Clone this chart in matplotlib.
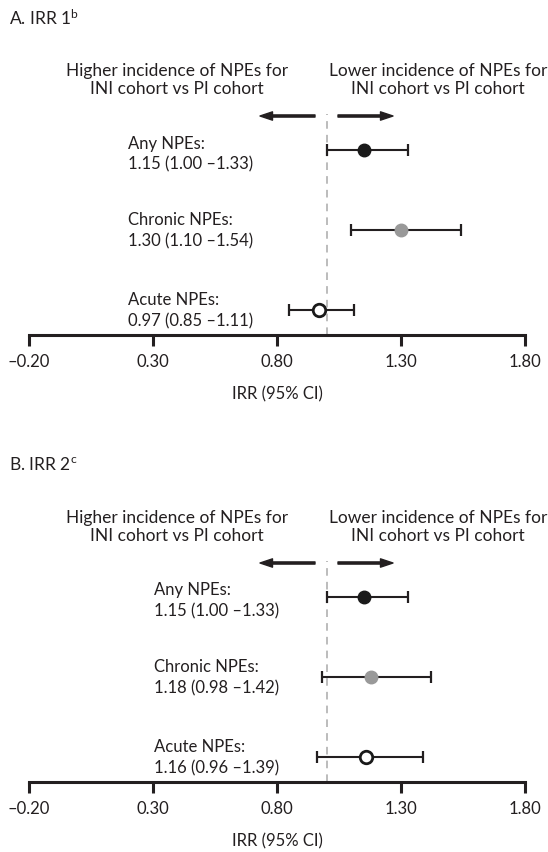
import matplotlib
matplotlib.use("Agg")
import matplotlib.pyplot as plt

plt.rcParams['font.family'] = ['Lato', 'DejaVu Sans']
plt.rcParams['mathtext.fontset'] = 'custom'
plt.rcParams['mathtext.rm'] = 'Lato'
plt.rcParams['mathtext.it'] = 'Lato:italic'

# ---- data ----
categories = ["Any NPEs", "Chronic NPEs", "Acute NPEs"]
irr1 = [1.15, 1.30, 0.97]
irr1_lo = [1.00, 1.10, 0.85]
irr1_hi = [1.33, 1.54, 1.11]
irr2 = [1.15, 1.18, 1.16]
irr2_lo = [1.00, 0.98, 0.96]
irr2_hi = [1.33, 1.42, 1.39]
tick_values = [-0.20, 0.30, 0.80, 1.30, 1.80]
tick_labels = ["\u20130.20", "0.30", "0.80", "1.30", "1.80"]
marker_faces = ["#1a1a1a", "#999999", "white"]
marker_edges = ["#1a1a1a", "#999999", "#1a1a1a"]

W, H = 548, 853
fig = plt.figure(figsize=(W / 100, H / 100), dpi=100)

FS = 12
FS_HEAD = 12.5
PX = 80.0  # pixels per category row
DARK = '#231f20'
LEFT, RIGHT = 29, 525
UNIT = (RIGHT - LEFT) / 2.0  # px per IRR unit


def xd(px):
    return -0.2 + (px - LEFT) / UNIT


def panel(off, label_x_px, title, sup, vals, lo, hi):
    axis_px = 336 + off
    top_px = 40 + off
    ax = fig.add_axes([LEFT / W, 1 - axis_px / H, (RIGHT - LEFT) / W, (axis_px - top_px) / H])
    ybot = 1 - 25 / PX
    ytop = ybot + (axis_px - top_px) / PX
    ax.set_xlim(-0.2, 1.8)
    ax.set_ylim(ybot, ytop)
    for s in ['top', 'right', 'left']:
        ax.spines[s].set_visible(False)
    ax.spines['bottom'].set_linewidth(2.2)
    ax.spines['bottom'].set_color(DARK)
    ax.set_yticks([])
    ax.set_xticks(tick_values)
    ax.set_xticklabels(tick_labels, fontsize=FS)
    ax.tick_params(axis='x', length=8, width=2.2, color=DARK, pad=5, labelcolor=DARK)
    ax.set_xlabel("IRR (95% CI)", fontsize=FS, labelpad=12, color=DARK)
    ax.patch.set_alpha(0)

    def py(px):
        return 1 + (axis_px - 25 - (px + off)) / PX

    ys = [3, 2, 1]
    arrow_y = py(117)
    # dashed reference line
    ax.plot([1.0, 1.0], [ybot, py(115)], color='#aaaaaa', lw=1.1, ls=(0, (5, 4)), zorder=1)
    lab_x = xd(label_x_px)
    lab_shift = [3, 0, 0]
    for i, y in enumerate(ys):
        ax.errorbar(vals[i], y, xerr=[[vals[i] - lo[i]], [hi[i] - vals[i]]], fmt='none',
                    ecolor=DARK, elinewidth=1.5, capsize=4.5, capthick=1.6, zorder=2)
        ax.plot(vals[i], y, 'o', ms=9, mfc=marker_faces[i], mec=marker_edges[i],
                mew=2.0 if i == 2 else 1, zorder=3)
        cy = y - lab_shift[i] / PX
        ax.text(lab_x, cy + 10.5 / PX, categories[i] + ":", fontsize=FS, ha='left', va='center', color=DARK)
        ax.text(lab_x, cy - 10.5 / PX, f"{vals[i]:.2f} ({lo[i]:.2f} \u2013{hi[i]:.2f})", fontsize=FS,
                ha='left', va='center', color=DARK)
    # header text
    for cx, txt in [(177, "Higher incidence of NPEs for\nINI cohort vs PI cohort"),
                    (438, "Lower incidence of NPEs for\nINI cohort vs PI cohort")]:
        ax.text(xd(cx), py(80), txt, fontsize=FS_HEAD, ha='center', va='center',
                linespacing=1.15, color=DARK)
    # arrows
    style = 'simple,head_length=0.75,head_width=0.5,tail_width=0.13'
    ax.annotate("", xy=(xd(260), arrow_y), xytext=(xd(315), arrow_y),
                arrowprops=dict(arrowstyle=style, color=DARK, mutation_scale=12, shrinkA=0, shrinkB=0))
    ax.annotate("", xy=(xd(393), arrow_y), xytext=(xd(338), arrow_y),
                arrowprops=dict(arrowstyle=style, color=DARK, mutation_scale=12, shrinkA=0, shrinkB=0))
    fig.text(9 / W, 1 - (18 + off) / H, title + r"$^{\mathrm{" + sup + "}}$", fontsize=FS_HEAD, ha='left',
             va='center', color=DARK)


panel(0, 128, "A. IRR 1", "b", irr1, irr1_lo, irr1_hi)
panel(447, 154, "B. IRR 2", "c", irr2, irr2_lo, irr2_hi)

fig.savefig("out.png", dpi=100)
